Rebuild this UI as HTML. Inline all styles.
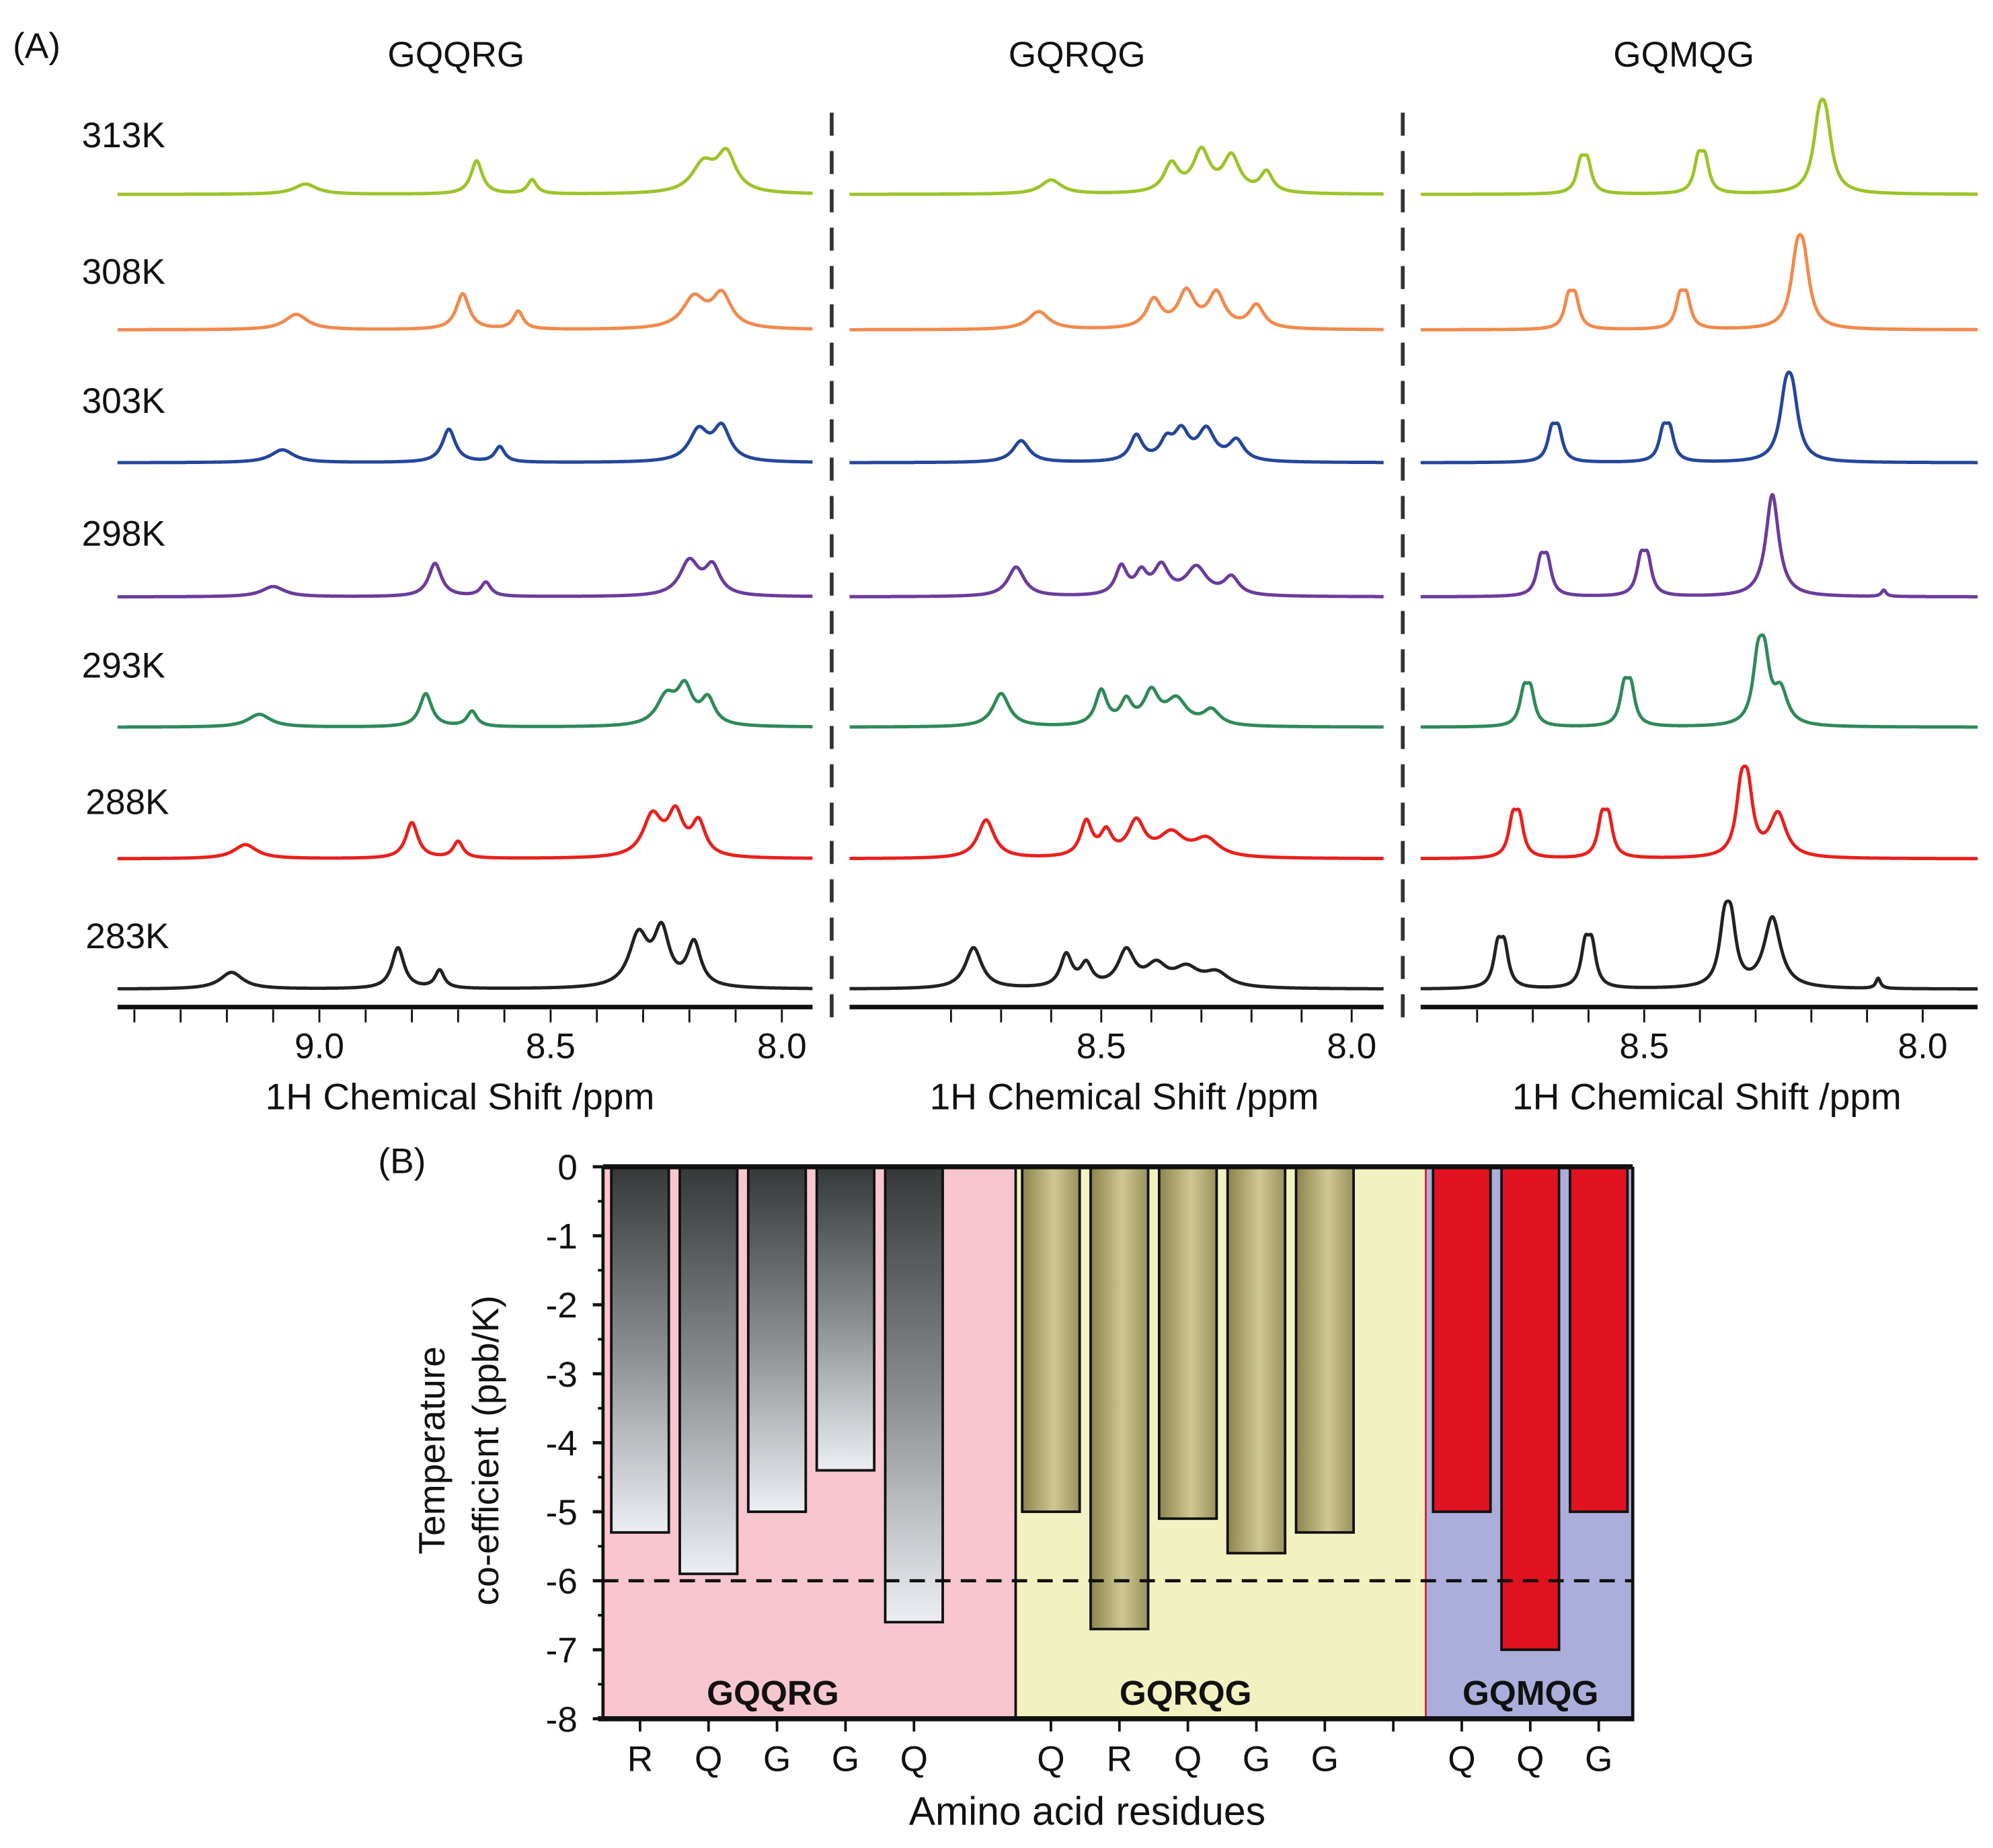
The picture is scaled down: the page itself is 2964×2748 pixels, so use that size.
<!DOCTYPE html>
<html><head><meta charset="utf-8"><style>
html,body{margin:0;padding:0;background:#fff}
svg{display:block}
text{font-family:"Liberation Sans",sans-serif;fill:#111}
</style></head><body>
<svg id="fig" xmlns="http://www.w3.org/2000/svg" width="2964" height="2748" viewBox="0 0 1560 1446">
<defs>
<linearGradient id="gGray" x1="0" y1="0" x2="0" y2="1"><stop offset="0" stop-color="#353838"/><stop offset="0.5" stop-color="#8a8d90"/><stop offset="1" stop-color="#eceef3"/></linearGradient>
<linearGradient id="gOlive" x1="0" y1="0" x2="1" y2="0"><stop offset="0" stop-color="#8c844c"/><stop offset="0.55" stop-color="#cfc894"/><stop offset="1" stop-color="#9a925c"/></linearGradient>
</defs>
<g id="panelA"></g>
<g id="panelB"></g>
</svg>
<script>
const NS="http://www.w3.org/2000/svg";
// ---------- Panel A data ----------
const temps=["313K","308K","303K","298K","293K","288K","283K"];
const tempColors=["#9cc42a","#f08a4d","#24479b","#6b3c9b","#2f8a58","#e8201d","#222222"];
const peptides=["GQQRG","GQRQG","GQMQG"];
// peaks: [ppm, height(px), halfwidth(ppm), doublet(0/1)]
const peaksP1=[
 [[9.03,8,0.03,0],[8.66,26,0.015,0],[8.54,11,0.012,0],[8.17,22,0.03,0],[8.12,30,0.025,0]],
 [[9.05,12,0.03,0],[8.69,28,0.017,0],[8.57,14,0.013,0],[8.19,24,0.03,0],[8.13,26,0.025,0]],
 [[9.08,10,0.03,0],[8.72,26,0.017,0],[8.61,12,0.013,0],[8.18,24,0.025,0],[8.13,26,0.022,0]],
 [[9.10,8,0.03,0],[8.75,26,0.017,0],[8.64,11,0.013,0],[8.20,27,0.025,0],[8.15,22,0.02,0]],
 [[9.13,10,0.03,0],[8.77,26,0.016,0],[8.67,12,0.013,0],[8.25,22,0.025,0],[8.21,28,0.02,0],[8.16,20,0.018,0]],
 [[9.16,11,0.03,0],[8.80,28,0.016,0],[8.70,13,0.013,0],[8.28,32,0.025,0],[8.23,32,0.02,0],[8.18,26,0.018,0]],
 [[9.19,13,0.03,0],[8.83,32,0.016,0],[8.74,14,0.012,0],[8.31,40,0.025,0],[8.26,42,0.02,0],[8.19,34,0.018,0]]
];
const peaksP2=[
 [[8.60,11,0.025,0],[8.36,22,0.018,0],[8.30,32,0.02,0],[8.24,28,0.02,0],[8.17,16,0.015,0]],
 [[8.625,14,0.025,0],[8.395,22,0.018,0],[8.33,28,0.02,0],[8.27,27,0.02,0],[8.19,18,0.018,0]],
 [[8.66,17,0.02,0],[8.43,20,0.015,0],[8.37,14,0.015,0],[8.34,22,0.018,0],[8.29,24,0.02,0],[8.23,16,0.018,0]],
 [[8.67,23,0.02,0],[8.46,22,0.014,0],[8.42,16,0.014,0],[8.38,22,0.018,0],[8.31,22,0.025,0],[8.24,14,0.018,0]],
 [[8.70,26,0.02,0],[8.50,27,0.014,0],[8.45,18,0.014,0],[8.40,25,0.018,0],[8.35,20,0.025,0],[8.28,12,0.02,0]],
 [[8.73,30,0.02,0],[8.53,27,0.014,0],[8.49,18,0.014,0],[8.43,27,0.02,0],[8.36,18,0.03,0],[8.29,14,0.03,0]],
 [[8.755,32,0.02,0],[8.57,25,0.014,0],[8.53,17,0.014,0],[8.45,28,0.02,0],[8.39,16,0.025,0],[8.33,14,0.03,0],[8.27,11,0.03,0]]
];
const peaksP3=[
 [[8.608,40,0.009,1],[8.397,44,0.009,1],[8.18,82,0.013,1]],
 [[8.63,40,0.009,1],[8.43,40,0.009,1],[8.22,82,0.013,1]],
 [[8.66,40,0.009,1],[8.46,40,0.009,1],[8.24,78,0.013,1]],
 [[8.68,45,0.009,1],[8.50,47,0.009,1],[8.27,80,0.014,0],[8.07,5,0.005,0]],
 [[8.71,45,0.009,1],[8.53,50,0.009,1],[8.29,80,0.011,1],[8.255,26,0.015,0]],
 [[8.73,50,0.009,1],[8.57,50,0.009,1],[8.32,82,0.011,1],[8.26,34,0.018,0]],
 [[8.757,53,0.009,1],[8.60,55,0.009,1],[8.35,78,0.011,1],[8.27,55,0.018,0],[8.08,8,0.005,0]]
];
const ticks1=[9.0,8.5,8.0];
const panels=[
 {peaks:peaksP1, x0:92, x1:636, ref:9.0, refX:250, pxPerPpm:362, minorFrom:9.4, title:357},
 {peaks:peaksP2, x0:665, x1:1083, ref:8.5, refX:862, pxPerPpm:392, minorFrom:8.8, title:843},
 {peaks:peaksP3, x0:1112, x1:1548, ref:8.5, refX:1287, pxPerPpm:436, minorFrom:8.8, title:1318}
];
const baselines=[152,258,362,467,569,672,774];
const labelY=[115,222,323,427,530,637,742];

function el(tag,attrs,parent,text){const e=document.createElementNS(NS,tag);for(const k in attrs)e.setAttribute(k,attrs[k]);if(text!==undefined)e.textContent=text;parent.appendChild(e);return e;}
const A=document.getElementById('panelA');
const aLab=el('text',{x:10,y:45,'font-size':28},A,'(A)');


temps.forEach((tt,i)=>{
 const lt=el('text',{x:i>=5?67:64,y:labelY[i],'font-size':28},A,tt);
 
 
});
[651,1098].forEach((x,i)=>{
 const d=el('line',{x1:x,y1:88,x2:x,y2:802,stroke:'#333','stroke-width':3,'stroke-dasharray':'18,12'},A);
 
 
});
panels.forEach((p,pi)=>{
 const g=el('g',{},A);
 
 
 const xs=v=>p.refX+(p.ref-v)*p.pxPerPpm;
 const ppmAt=x=>p.ref-(x-p.refX)/p.pxPerPpm;
 const tl=el('text',{x:p.title,y:52,'font-size':28,'text-anchor':'middle'},g,peptides[pi]);
 
 
 p.peaks.forEach((pk,ti)=>{
  let d='';
  for(let x=p.x0;x<=p.x1;x+=0.5){
   const v=ppmAt(x);let s=0;
   pk.forEach(q=>{
    const w2=q[2]*q[2];
    if(q[3]){const sp=0.012;s+=0.55*q[1]*w2/((v-q[0]-sp/2)**2+w2)+0.55*q[1]*w2/((v-q[0]+sp/2)**2+w2);}
    else s+=q[1]*w2/((v-q[0])**2+w2);
   });
   const y=baselines[ti]-s;
   d+=(d?'L':'M')+x.toFixed(1)+','+y.toFixed(1);
  }
  const path=el('path',{d:d,fill:'none',stroke:tempColors[ti],'stroke-width':2.6,'stroke-linejoin':'round'},g);
  
  
 });
 const ax=el('line',{x1:p.x0,y1:788,x2:p.x1,y2:788,stroke:'#111','stroke-width':3.5},g);
 
 
 for(let v=p.minorFrom;v>=7.95;v-=0.1){
  const x=xs(v);if(x>p.x1)break;
  const tk=el('line',{x1:x,y1:790,x2:x,y2:800,stroke:'#111','stroke-width':1.5},g);
  
  
 }
 ticks1.forEach(v=>{
  const x=xs(v);if(x<p.x0+20)return;
  const tx=el('text',{x:x,y:828,'font-size':28,'text-anchor':'middle'},g,v.toFixed(1));
  
  
 });
 const at=el('text',{x:(p.x0+p.x1)/2+(pi==0?-4:6),y:868,'font-size':29,'text-anchor':'middle'},g,'1H Chemical Shift /ppm');
 
 
});

// ---------- Panel B data ----------
const residues=["R","Q","G","G","Q","Q","R","Q","G","G","Q","Q","G"];
const coefValues=[-5.3,-5.9,-5.0,-4.4,-6.6,-5.0,-6.7,-5.1,-5.6,-5.3,-5.0,-7.0,-5.0];
const barGroup=[0,0,0,0,0,1,1,1,1,1,2,2,2];
const slots=[0,1,2,3,4,6,7,8,9,10,12,13,14];
const yTicks=[0,-1,-2,-3,-4,-5,-6,-7,-8];
const thresholdValue=-6;
const B=document.getElementById('panelB');
const px0=472,px1=1278,py0=913,pyPer=54;
const yS=v=>py0-v*pyPer;
const xSlot=i=>501+i*53.6;
const bgs=[[472,795,'#f7c6cf'],[795,1116,'#f2f1c0'],[1116,1278,'#abaedb']];
bgs.forEach((b,i)=>{
 const r=el('rect',{x:b[0],y:yS(0),width:b[1]-b[0],height:yS(-8)-yS(0),fill:b[2]},B);
 
 
});
const sep1=el('line',{x1:795,y1:913,x2:795,y2:1345,stroke:'#111','stroke-width':2},B);


const sep2=el('line',{x1:1116,y1:913,x2:1116,y2:1345,stroke:'#d0243a','stroke-width':1.5},B);


const fills=['url(#gGray)','url(#gOlive)','#e0121f'];
coefValues.forEach((v,i)=>{
 const cx=xSlot(slots[i]);
 const r=el('rect',{x:cx-22.5,y:yS(0),width:45,height:yS(v)-yS(0),fill:fills[barGroup[i]],stroke:'#111','stroke-width':2},B);
 
 
 const tl=el('text',{x:cx,y:1386,'font-size':28,'text-anchor':'middle'},B,residues[i]);
 
 
});
for(let s=0;s<=14;s++){
 if(s==5)continue;
 const tk=el('line',{x1:xSlot(s),y1:1345,x2:xSlot(s),y2:1355,stroke:'#111','stroke-width':2},B);
 
 
}
const dl=el('line',{x1:px0,y1:yS(thresholdValue),x2:px1,y2:yS(thresholdValue),stroke:'#111','stroke-width':2.5,'stroke-dasharray':'12,8'},B);


[[605,'GQQRG'],[928,'GQRQG'],[1198,'GQMQG']].forEach(gl=>{
 const tt=el('text',{x:gl[0],y:1334,'font-size':27,'font-weight':'bold','text-anchor':'middle'},B,gl[1]);
 
 
});
const frameTop=el('line',{x1:px0,y1:py0,x2:px1,y2:py0,stroke:'#111','stroke-width':4},B);


const frameBot=el('line',{x1:px0-4,y1:1345,x2:px1,y2:1345,stroke:'#111','stroke-width':4},B);


const frameLeft=el('line',{x1:px0,y1:py0,x2:px0,y2:1347,stroke:'#111','stroke-width':2.5},B);


const frameRight=el('line',{x1:px1,y1:py0,x2:px1,y2:1347,stroke:'#111','stroke-width':2.5},B);


yTicks.forEach(v=>{
 const tk=el('line',{x1:px0-8,y1:yS(v),x2:px0,y2:yS(v),stroke:'#111','stroke-width':2.5},B);
 
 
 if(v>-8){const m=el('line',{x1:px0-4,y1:yS(v-0.5),x2:px0,y2:yS(v-0.5),stroke:'#111','stroke-width':2},B);
 
 }
 const tl=el('text',{x:452,y:yS(v)+10,'font-size':28,'text-anchor':'end'},B,String(v));
 
 
});
const bl=el('text',{x:296,y:918,'font-size':28},B,'(B)');


const xt=el('text',{x:851,y:1428,'font-size':31,'text-anchor':'middle'},B,'Amino acid residues');


const yt=el('text',{transform:'translate(348,1135) rotate(-90)','font-size':29,'text-anchor':'middle'},B,'Temperature');


const yt2=el('text',{transform:'translate(390,1135) rotate(-90)','font-size':29,'text-anchor':'middle'},B,'co-efficient (ppb/K)');


</script>
</body></html>
